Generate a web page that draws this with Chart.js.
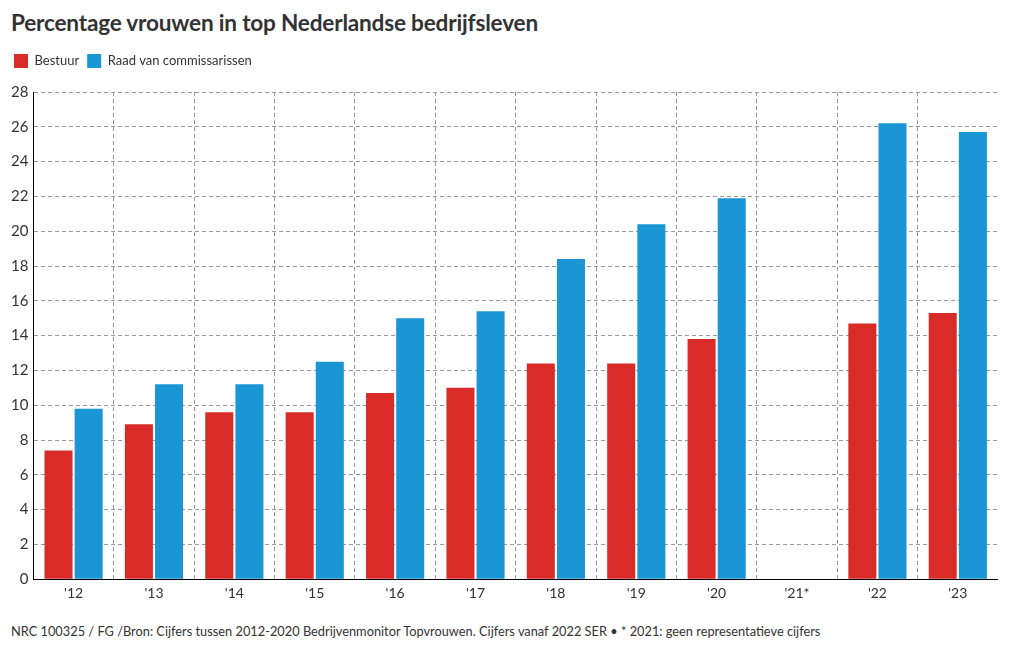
<!DOCTYPE html>
<html>
<head>
<meta charset="utf-8">
<script src="https://cdn.jsdelivr.net/npm/chart.js@4.4.1/dist/chart.umd.min.js"></script>
<style>
  html, body { margin: 0; padding: 0; background: #fff; }
  body { width: 1020px; height: 650px; position: relative; overflow: hidden; font-family: "Lato", "Open Sans", sans-serif; color: #333; }
  #title { position: absolute; left: 11px; top: 9px; font-size: 22.6px; font-weight: 700; color: #333; letter-spacing: -0.2px; }
  #footer { position: absolute; left: 11px; top: 623px; font-size: 12.8px; color: #333; }
  #wrap { position: absolute; left: 0; top: 46px; width: 998px; height: 562px; }
</style>
</head>
<body>
<div id="title">Percentage vrouwen in top Nederlandse bedrijfsleven</div>
<div id="wrap"><canvas id="c"></canvas></div>
<div id="footer">NRC 100325 / FG /Bron: Cijfers tussen 2012-2020 Bedrijvenmonitor Topvrouwen. Cijfers vanaf 2022 SER • * 2021: geen representatieve cijfers</div>
<script>
const categories = ["'12", "'13", "'14", "'15", "'16", "'17", "'18", "'19", "'20", "'21*", "'22", "'23"];
const bestuur = [7.4, 8.9, 9.6, 9.6, 10.7, 11.0, 12.4, 12.4, 13.8, null, 14.7, 15.3];
const raad = [9.8, 11.2, 11.2, 12.5, 15.0, 15.4, 18.4, 20.4, 21.9, null, 26.2, 25.7];
const seriesNames = ["Bestuur", "Raad van commissarissen"];

const legendSpacer = {
  id: 'legendSpacer',
  beforeInit(chart) {
    const origFit = chart.legend.fit;
    chart.legend.fit = function () {
      origFit.bind(chart.legend)();
      this.height += 14;
    };
  }
};

new Chart(document.getElementById('c'), {
  type: 'bar',
  data: {
    labels: categories,
    datasets: [
      { label: seriesNames[0], data: bestuur, backgroundColor: '#d92b27' },
      { label: seriesNames[1], data: raad, backgroundColor: '#1a96d4' }
    ]
  },
  plugins: [legendSpacer],
  options: {
    responsive: true,
    maintainAspectRatio: false,
    animation: false,
    datasets: { bar: { categoryPercentage: 0.75, barPercentage: 0.93 } },
    layout: { padding: { left: 6, right: 0, top: 0, bottom: 0 } },
    plugins: {
      legend: {
        position: 'top',
        align: 'start',
        labels: {
          boxWidth: 14, boxHeight: 14, padding: 8,
          color: '#333',
          font: { family: 'Lato, "Open Sans", sans-serif', size: 13 }
        }
      },
      tooltip: { enabled: false }
    },
    scales: {
      x: {
        offset: true,
        grid: { display: true, offset: true, color: '#999', drawTicks: false },
        border: { display: true, color: '#000', width: 1, dash: [4,3] },
        ticks: { color: '#333', font: { family: 'Lato, "Open Sans", sans-serif', size: 14 }, padding: 6 }
      },
      y: {
        min: 0, max: 28,
        ticks: { stepSize: 2, color: '#333', font: { family: 'Lato, "Open Sans", sans-serif', size: 15 }, padding: 5 },
        grid: { color: '#999', drawTicks: false },
        border: { display: true, color: '#000', width: 1, dash: [4,3] }
      }
    }
  }
});
</script>
</body>
</html>
